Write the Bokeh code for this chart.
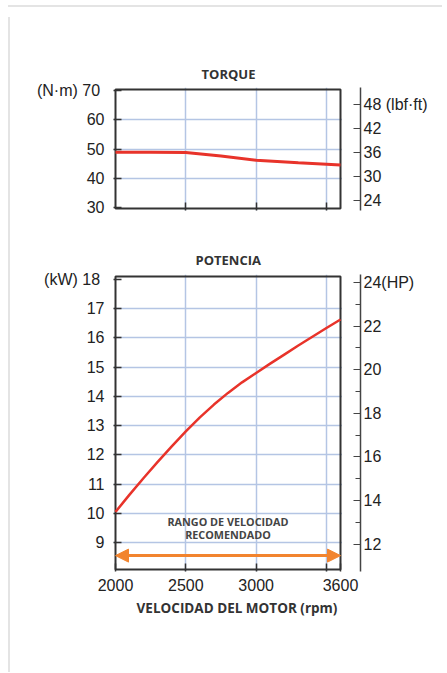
from bokeh.plotting import figure
from bokeh.models import (Range1d, LinearAxis, FixedTicker, Label, Arrow,
                          NormalHead, BoxAnnotation, Div)
from bokeh.layouts import column, row
from bokeh.embed import file_html
from bokeh.resources import INLINE

# ---------------- data ----------------
rpm_torque = [2000, 2250, 2500, 2750, 3000, 3300, 3600]
torque_nm = [48.9, 48.9, 48.85, 47.6, 46.2, 45.3, 44.6]

rpm_power = [2000, 2100, 2200, 2300, 2400, 2500, 2600, 2700, 2800,
             2900, 3000, 3100, 3200, 3300, 3400, 3500, 3600]
power_kw = [10.05, 10.64, 11.21, 11.76, 12.29, 12.8, 13.28, 13.72, 14.12,
            14.48, 14.8, 15.12, 15.43, 15.74, 16.04, 16.34, 16.63]

rpm_min, rpm_max = 2000, 3600
x_ticks = [2000, 2500, 3000, 3600]
x_grid = [2500, 3000, 3500]
torque_ticks_nm = [30, 40, 50, 60, 70]
torque_grid_nm = [40, 50, 60]
torque_ticks_lbf = [24, 30, 36, 42, 48]
power_ticks_kw = [9, 10, 11, 12, 13, 14, 15, 16, 17, 18]
power_grid_kw = [9, 10, 11, 12, 13, 14, 15, 16, 17]
power_ticks_hp = [12, 14, 16, 18, 20, 22, 24]
power_minor_hp = [13, 15, 17, 19, 21, 23]

recommended_rpm = [2000, 3600]
recommended_kw = 8.555
recommended_text = ["RANGO DE VELOCIDAD", "RECOMENDADO"]
recommended_text_kw = [9.72, 9.27]

NM_TO_LBF = 0.737562
KW_TO_HP = 1.34102

torque_box = (29.83, 70.17)
power_box = (8.08, 18.1)

# ---------------- layout / styles ----------------
BOX_W = 225          # px of the boxed area (2000..3600 rpm)
GAP_W = 20           # px between box and the right-hand axis
PAD = 2              # px of frame kept around the box so its border shows
TORQUE_H = 119       # px height of torque box
POWER_H = 293        # px height of power box

x_unit = (rpm_max - rpm_min) / BOX_W
x_view = (rpm_min - PAD * x_unit, rpm_max + GAP_W * x_unit)


def padded(box, h):
    u = (box[1] - box[0]) / h
    return (box[0] - PAD * u, box[1] + PAD * u)


torque_view = padded(torque_box, TORQUE_H)
power_view = padded(power_box, POWER_H)

NUM_FONT = "Liberation Sans"
TXT_FONT = "Open Sans"
NUM_SIZE = "16px"
NUM_COLOR = "#222222"
GRID = "#b4c5e4"
RED = "#e8332a"
ORANGE = "#f2842e"
FRAME = "#333333"


def style_fig(p, title, offset, standoff, box):
    p.title.text = title
    p.title.align = "left"
    p.title.offset = offset
    p.title.standoff = standoff
    p.title.text_font = TXT_FONT
    p.title.text_font_size = "13px"
    p.title.text_font_style = "bold"
    p.title.text_color = "#333333"
    p.outline_line_color = None
    p.background_fill_color = "white"
    p.border_fill_color = "white"
    p.xgrid.ticker = FixedTicker(ticks=x_grid)
    p.xgrid.grid_line_color = GRID
    p.xgrid.grid_line_width = 1.5
    p.ygrid.grid_line_color = GRID
    p.ygrid.grid_line_width = 1.5
    # white cover for the gap between the box and the right axis
    p.add_layout(BoxAnnotation(left=rpm_max + 1.5 * x_unit, fill_color="white",
                               fill_alpha=1, line_color=None, level="glyph"))
    # the dark box
    p.quad(left=[rpm_min], right=[rpm_max], bottom=[box[0]], top=[box[1]],
           fill_color=None, line_color=FRAME, line_width=2)


def style_axis(ax, standoff):
    ax.axis_line_color = None
    ax.major_tick_in = 8
    ax.major_tick_out = 0
    ax.minor_tick_in = 8
    ax.minor_tick_out = 0
    ax.major_tick_line_color = FRAME
    ax.major_tick_line_width = 1.5
    ax.minor_tick_line_color = FRAME
    ax.minor_tick_line_width = 1.5
    ax.major_label_text_font = NUM_FONT
    ax.major_label_text_font_size = NUM_SIZE
    ax.major_label_text_color = NUM_COLOR
    ax.major_label_standoff = standoff


def add_right_axis(p, range_name, ticks, minor, overrides):
    ax = LinearAxis(y_range_name=range_name,
                    ticker=FixedTicker(ticks=ticks, minor_ticks=minor),
                    major_label_overrides=overrides)
    ax.axis_line_color = "#444444"
    ax.axis_line_width = 1.5
    ax.major_tick_in = 7
    ax.major_tick_out = 0
    ax.minor_tick_in = 5
    ax.minor_tick_out = 0
    ax.major_tick_line_color = "#444444"
    ax.major_tick_line_width = 1.2
    ax.minor_tick_line_color = "#444444"
    ax.minor_tick_line_width = 1.2
    ax.major_label_text_font = NUM_FONT
    ax.major_label_text_font_size = NUM_SIZE
    ax.major_label_text_color = NUM_COLOR
    ax.major_label_standoff = 3
    p.add_layout(ax, "right")


# ---------------- torque ----------------
p1 = figure(width=432, height=218, output_backend="svg", toolbar_location=None,
            x_range=Range1d(*x_view), y_range=Range1d(*torque_view),
            min_border_left=98, min_border_right=87,
            min_border_top=75, min_border_bottom=20, title="TORQUE")
style_fig(p1, "TORQUE", 88, 9, torque_box)
p1.ygrid.ticker = FixedTicker(ticks=torque_grid_nm)
p1.yaxis.ticker = FixedTicker(ticks=torque_ticks_nm)
p1.yaxis.major_label_overrides = {70: "(N\u00b7m)  70"}
style_axis(p1.yaxis[0], 9)
p1.xaxis.ticker = FixedTicker(ticks=[], minor_ticks=x_grid)
style_axis(p1.xaxis[0], 0)
p1.extra_y_ranges = {"lbf": Range1d(torque_view[0] * NM_TO_LBF, torque_view[1] * NM_TO_LBF)}
add_right_axis(p1, "lbf", torque_ticks_lbf, [], {48: "48  (lbf\u00b7ft)"})
p1.line(rpm_torque, torque_nm, line_color=RED, line_width=3)

# ---------------- power ----------------
p2 = figure(width=432, height=398, output_backend="svg", toolbar_location=None,
            x_range=Range1d(*x_view), y_range=Range1d(*power_view),
            min_border_left=98, min_border_right=87,
            min_border_top=44, min_border_bottom=57, title="POTENCIA")
style_fig(p2, "POTENCIA", 82, 11, power_box)
p2.ygrid.ticker = FixedTicker(ticks=power_grid_kw)
p2.yaxis.ticker = FixedTicker(ticks=power_ticks_kw)
p2.yaxis.major_label_overrides = {18: "(kW)  18"}
style_axis(p2.yaxis[0], 9)
p2.xaxis.ticker = FixedTicker(ticks=x_ticks, minor_ticks=[3500])
style_axis(p2.xaxis[0], 7)
p2.xaxis.axis_label = "VELOCIDAD DEL MOTOR (rpm)"
p2.xaxis.axis_label_text_font = TXT_FONT
p2.xaxis.axis_label_text_font_size = "13.5px"
p2.xaxis.axis_label_text_font_style = "bold"
p2.xaxis.axis_label_text_color = "#333333"
p2.xaxis.axis_label_standoff = 5
p2.extra_y_ranges = {"hp": Range1d(power_view[0] * KW_TO_HP, power_view[1] * KW_TO_HP)}
add_right_axis(p2, "hp", power_ticks_hp, power_minor_hp, {24: "24(HP)"})
p2.line(rpm_power, power_kw, line_color=RED, line_width=2.5)

p2.add_layout(Arrow(
    start=NormalHead(size=13, fill_color=ORANGE, line_color=ORANGE),
    end=NormalHead(size=13, fill_color=ORANGE, line_color=ORANGE),
    x_start=recommended_rpm[0], y_start=recommended_kw,
    x_end=recommended_rpm[1], y_end=recommended_kw,
    line_color=ORANGE, line_width=3))
mid_rpm = (recommended_rpm[0] + recommended_rpm[1]) / 2
for txt, ykw in zip(recommended_text, recommended_text_kw):
    p2.add_layout(Label(x=mid_rpm, y=ykw, text=txt, text_align="center",
                        text_baseline="middle", text_font=TXT_FONT,
                        text_font_size="10.8px", text_font_style="bold",
                        text_color="#444444"))

# ---------------- page ----------------
top_line = Div(width=434, height=2, styles={"background-color": "#e4e4e4"})
left_line = Div(width=2, height=655, styles={"background-color": "#e4e4e4"})
layout = column(top_line, row(left_line, column(p1, p2)), margin=(0, 0, 0, 3))

open("out.html", "w").write(file_html(layout, INLINE))
